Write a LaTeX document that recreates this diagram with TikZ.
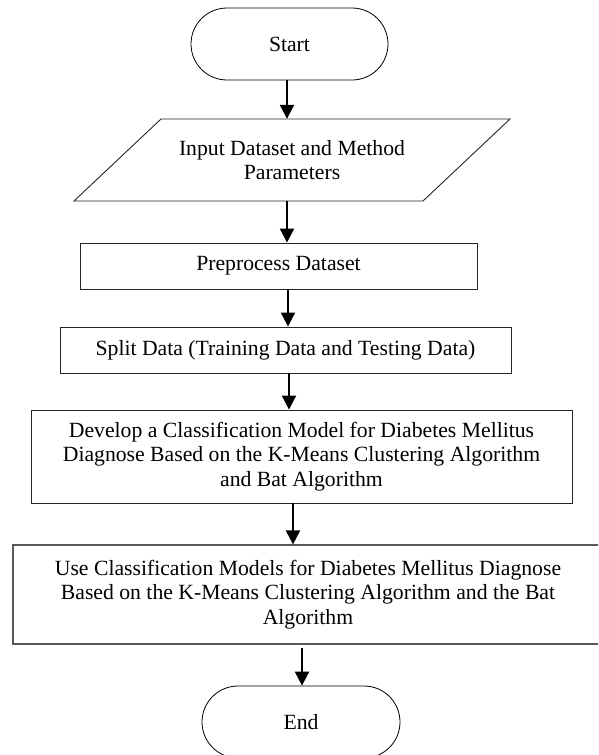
\documentclass[tikz,border=0pt]{standalone}
\usepackage{fontspec}
\setmainfont{Liberation Serif}
\usetikzlibrary{arrows.meta}
\begin{document}
\begin{tikzpicture}[x=1pt,y=-1pt,
  every node/.style={font=\fontsize{21.7}{24.5}\selectfont, align=center, inner sep=0pt},
  term/.style={draw=black, line width=0.8pt, rounded corners=36pt, minimum height=72pt},
  procbox/.style={draw=black!85, line width=0.9pt, rectangle},
  shapeline/.style={draw=black!85, line width=0.9pt},
  arr/.style={line width=2pt, -{Triangle[width=14pt,length=14pt]}}]
\useasboundingbox (0,0) rectangle (598,755);
\clip (0,0) rectangle (598,755);

\node[term, minimum width=197pt] (start) at (289.5,44) {Start};
\node[minimum width=300pt, minimum height=82pt] (inp) at (292,160) {Input Dataset and Method\\Parameters};
\draw[shapeline] (161,119) -- (510,119) -- (423,201) -- (74,201) -- cycle;
\node[procbox, minimum width=397pt, minimum height=46pt] (pre) at (278.5,266) {Preprocess Dataset};
\node[procbox, minimum width=451pt, minimum height=46pt] (split) at (285.5,350) {Split Data (Training Data and Testing Data)};
\node[procbox, minimum width=541pt, minimum height=93pt] (dev) at (301.5,456.5) {Develop a Classification Model for Diabetes Mellitus\\Diagnose Based on the K-Means Clustering Algorithm\\and Bat Algorithm};
\node[procbox, draw=black!65, line width=1.2pt, minimum width=590pt, minimum height=99pt] (use) at (308,594.5) {Use Classification Models for Diabetes Mellitus Diagnose\\Based on the K-Means Clustering Algorithm and the Bat\\Algorithm};
\node[term, minimum width=198pt] (end) at (301,722) {End};

\draw[arr] ([xshift=-2.5pt]start.south) -- ([xshift=-2.5pt]start.south |- inp.north);
\draw[arr] ([xshift=-5pt]inp.south) -- ([xshift=-5pt]inp.south |- pre.north);
\draw[arr] ([xshift=9.5pt]pre.south) -- ([xshift=9.5pt]pre.south |- split.north);
\draw[arr] ([xshift=3.5pt]split.south) -- ([xshift=3.5pt]split.south |- dev.north);
\draw[arr] ([xshift=-8.5pt]dev.south) -- ([xshift=-8.5pt]dev.south |- use.north);
\draw[arr] ([xshift=-6pt,yshift=-3pt]use.south) -- ([xshift=-6pt]use.south |- end.north);
\end{tikzpicture}
\end{document}
